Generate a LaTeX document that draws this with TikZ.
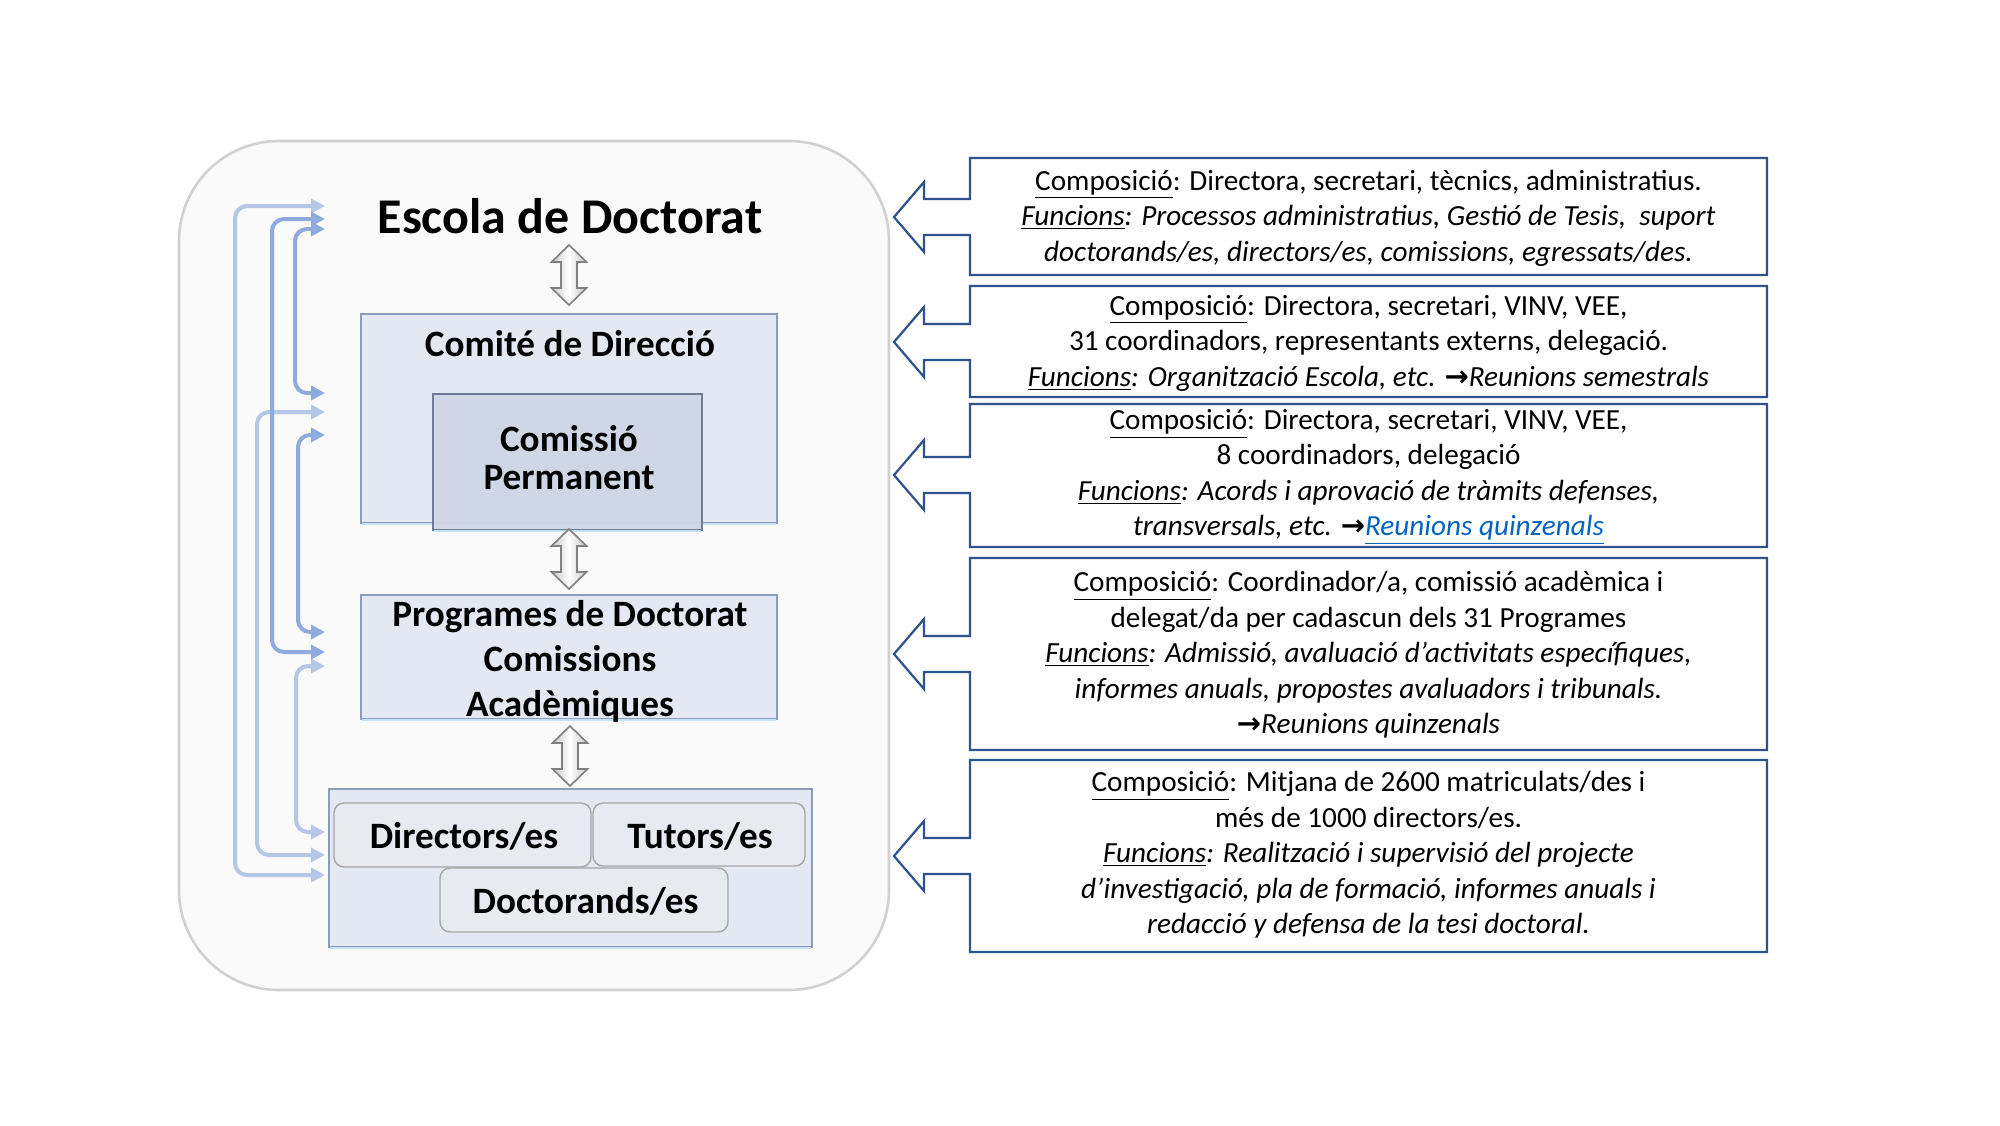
\documentclass[tikz,border=0pt]{standalone}
\usepackage{fontspec}
\setmainfont{Carlito}
\newfontfamily\dejavu{DejaVu Sans}
\usetikzlibrary{arrows.meta}
\definecolor{boxfill}{RGB}{227,232,243}
\definecolor{boxedge}{RGB}{140,156,186}
\definecolor{pfill}{RGB}{206,214,229}
\definecolor{pedge}{RGB}{110,124,150}
\definecolor{rfill}{RGB}{231,234,241}
\definecolor{cyanedge}{RGB}{196,226,243}
\definecolor{lightb}{RGB}{180,199,231}
\definecolor{medb}{RGB}{143,170,220}
\definecolor{calledge}{RGB}{47,82,143}
\definecolor{linkc}{RGB}{5,99,193}
\newcommand{\arr}{{\upshape\bfseries\dejavu\fontsize{14.5}{14.5}\selectfont →}}
\newcommand{\mycallout}[3]{%
  \draw[call] (970,#1) -- (1767,#1) -- (1767,#2) -- (970,#2) -- (970,#3+18) -- (924,#3+18) -- (924,#3+35) -- (894,#3) -- (924,#3-35) -- (924,#3-18) -- (970,#3-18) -- cycle;}
\newcommand{\mydbl}[1]{%
  \draw[dbl, shift={#1}] (0,-30) -- (17.5,-13) -- (8,-13) -- (8,13) -- (17.5,13) -- (0,30) -- (-17.5,13) -- (-8,13) -- (-8,-13) -- (-17.5,-13) -- cycle;}
\begin{document}
\begin{tikzpicture}[x=0.5pt,y=-0.5pt,
  outer/.style={draw=black!18, fill=black!2, line width=1.3pt, rounded corners=50pt},
  bbox/.style={draw=boxedge, fill=boxfill, line width=0.9pt, inner sep=0pt},
  pbox/.style={draw=pedge, fill=pfill, fill opacity=0.95, line width=0.9pt, inner sep=0pt},
  rbox/.style={draw=black!35, fill=rfill, line width=0.7pt, rounded corners=5pt, inner sep=0pt},
  bigtxt/.style={font=\fontsize{18.6}{22.5}\selectfont\bfseries, inner sep=0pt, anchor=base},
  dbl/.style={draw=black!50, line width=0.8pt, left color=black!22, right color=black!22, middle color=white},
  larr/.style={line width=2pt, rounded corners=6pt, {Triangle[length=7pt,width=7pt]}-{Triangle[length=7pt,width=7pt]}},
  call/.style={draw=calledge, fill=white, line width=1.1pt},
  ctext/.style={align=center, inner sep=0pt, font=\fontsize{14.6}{17.75}\selectfont},
  cedge/.style={draw=cyanedge, line width=1pt}
]
\useasboundingbox (0,0) rectangle (2000,1125);
\fill[white] (0,0) rectangle (2000,1125);

% outer rounded panel
\node[outer, minimum width=355pt, minimum height=424.5pt] (panel) at (534,565.5) {};

% left boxes
\node[bbox, minimum width=208pt, minimum height=104.5pt] (comite) at (569,418.5) {};
\draw[cedge] ([xshift=1pt]comite.south west) -- ([xshift=-1pt]comite.south east);
\node[pbox, minimum width=134.5pt, minimum height=68pt] (permanent) at (567.5,462) {};
\draw[cedge] ([xshift=1pt]permanent.south west) -- ([xshift=-1pt]permanent.south east);
\node[bbox, minimum width=208pt, minimum height=62pt] (programes) at (569,657) {};
\draw[cedge] ([xshift=1pt]programes.south west) -- ([xshift=-1pt]programes.south east);
\node[bbox, minimum width=241.5pt, minimum height=79pt] (grup) at (570.5,868) {};
\draw[cedge] ([xshift=1pt]grup.south west) -- ([xshift=-1pt]grup.south east);
\node[rbox, minimum width=128.5pt, minimum height=32pt] (directors) at (462.5,835) {};
\node[rbox, minimum width=106pt, minimum height=31.5pt] (tutors) at (699,834.5) {};
\node[rbox, minimum width=144pt, minimum height=32pt] (doctorands) at (584,900) {};

% texts
\node[font=\fontsize{25}{30}\selectfont\bfseries, inner sep=0pt, anchor=base] (title) at (570,233) {Escola de Doctorat};
\node[bigtxt] (tcomite) at (570,356) {Comité de Direcció};
\node[bigtxt] (tperm1) at (569,451) {Comissió};
\node[bigtxt] (tperm2) at (569,489) {Permanent};
\node[bigtxt] (tprog1) at (570,626) {Programes de Doctorat};
\node[bigtxt] (tprog2) at (570,671) {Comissions};
\node[bigtxt] (tprog3) at (570,716) {Acadèmiques};
\node[bigtxt] (tdir) at (464,848) {Directors/es};
\node[bigtxt] (ttut) at (700,848) {Tutors/es};
\node[bigtxt] (tdoc) at (585.5,913) {Doctorands/es};

% vertical double arrows
\mydbl{(569,275)}
\mydbl{(569,559)}
\mydbl{(570,756)}

% left bracket arrows
\coordinate (a1t) at (325,206); \coordinate (a1b) at (325,875);
\coordinate (a2t) at (325,219); \coordinate (a2b) at (325,652);
\coordinate (a3t) at (325,229); \coordinate (a3b) at (325,393);
\coordinate (a4t) at (325,412); \coordinate (a4b) at (325,855);
\coordinate (a5t) at (325,435); \coordinate (a5b) at (325,632);
\coordinate (a6t) at (325,666); \coordinate (a6b) at (325,832);
\draw[larr, draw=lightb] (a1t) -- ++(-90,0) |- (a1b);
\draw[larr, draw=lightb] (a4t) -- ++(-68,0) |- (a4b);
\draw[larr, draw=lightb] (a6t) -- ++(-29,0) |- (a6b);
\draw[larr, draw=medb] (a2t) -- ++(-53,0) |- (a2b);
\draw[larr, draw=medb] (a3t) -- ++(-30,0) |- (a3b);
\draw[larr, draw=medb] (a5t) -- ++(-27,0) |- (a5b);

% right callouts
\mycallout{158}{275}{217}
\mycallout{286}{397}{342}
\mycallout{404}{547}{475}
\mycallout{558}{750}{654}
\mycallout{760}{952}{856}

\node[ctext] (c1) at (1368.5,218) {\underline{Composició}: Directora, secretari, tècnics, administratius.\\
\textit{\underline{Funcions}: Processos administratius, Gestió de Tesis,~ suport}\\
\textit{doctorands/es, directors/es, comissions, egressats/des.}};
\node[ctext] (c2) at (1368.5,343) {\underline{Composició}: Directora, secretari, VINV, VEE,\\
31 coordinadors, representants externs, delegació.\\
\textit{\underline{Funcions}: Organització Escola, etc. \arr Reunions semestrals}};
\node[ctext] (c3) at (1368.5,477) {\underline{Composició}: Directora, secretari, VINV, VEE,\\
8 coordinadors, delegació\\
\textit{\underline{Funcions}: Acords i aprovació de tràmits defenses,}\\
\textit{transversals, etc. \arr\textcolor{linkc}{\underline{Reunions quinzenals}}}};
\node[ctext] (c4) at (1368.5,655) {\underline{Composició}: Coordinador/a, comissió acadèmica i\\
delegat/da per cadascun dels 31 Programes\\
\textit{\underline{Funcions}: Admissió, avaluació d’activitats específiques,}\\
\textit{informes anuals, propostes avaluadors i tribunals.}\\
\textit{\arr Reunions quinzenals}};
\node[ctext] (c5) at (1368.5,855) {\underline{Composició}: Mitjana de 2600 matriculats/des i\\
més de 1000 directors/es.\\
\textit{\underline{Funcions}: Realització i supervisió del projecte}\\
\textit{d’investigació, pla de formació, informes anuals i}\\
\textit{redacció y defensa de la tesi doctoral.}};
\end{tikzpicture}
\end{document}
